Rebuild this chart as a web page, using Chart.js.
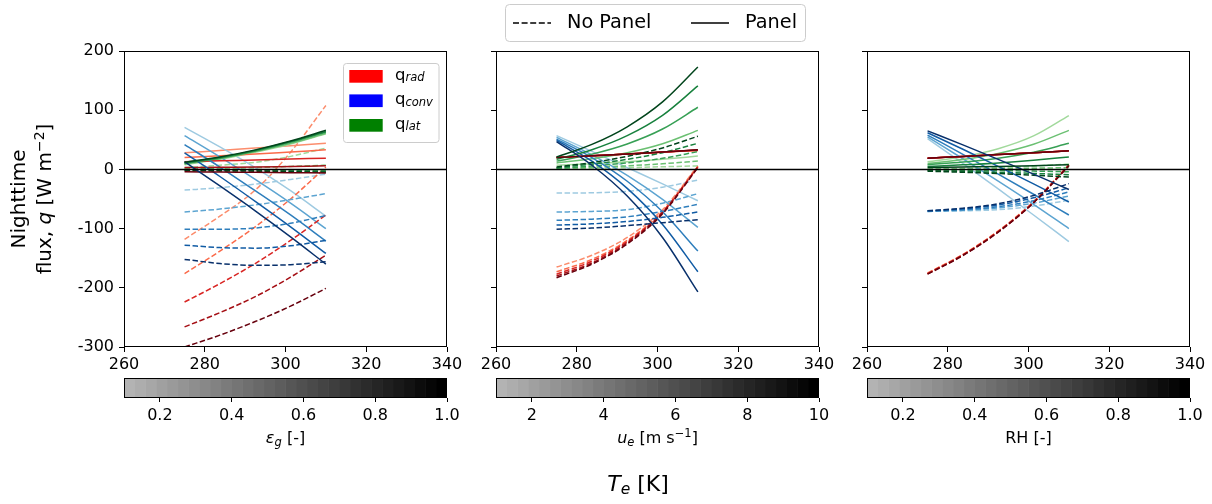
<!DOCTYPE html>
<html><head><meta charset="utf-8">
<script src="https://cdn.jsdelivr.net/npm/chart.js@4/dist/chart.umd.min.js"></script>
<style>
html,body{margin:0;padding:0;background:#fff;}
#wrap{position:relative;width:1212px;height:504px;overflow:hidden;background:#fff;}
canvas{position:absolute;}
</style></head><body><div id="wrap">
<canvas id="p1" width="470" height="380" style="left:0px;top:0px"></canvas>
<canvas id="p2" width="370" height="380" style="left:470px;top:0px"></canvas>
<canvas id="p3" width="371" height="380" style="left:841px;top:0px"></canvas>
<canvas id="c1" width="470" height="134" style="left:0px;top:370px"></canvas>
<canvas id="c2" width="370" height="134" style="left:470px;top:370px"></canvas>
<canvas id="c3" width="371" height="134" style="left:841px;top:370px"></canvas>
</div>
<script>
// ---------------- DATA ----------------
const T_E = [275, 283.75, 292.5, 301.25, 310];   // environment temperature samples [K]
const X_TICKS = [260, 280, 300, 320, 340];
const Y_TICKS = [-300, -200, -100, 0, 100, 200];

// Panel 1: varying ground emissivity (5 levels, light -> dark)
const p1RadNoPanel  = [[-118,-79,-35,29,108],[-176,-138,-97,-50,4],[-224,-193,-159,-120,-77],[-266,-242,-215,-182,-145],[-300,-280,-257,-231,-201]];
const p1RadPanel    = [[28,32,36,40,44],[20,23,26,29.5,33],[13,14.5,16,17.5,19],[3,3.5,4,5,6],[-4,-4.5,-5,-5.5,-6]];
const p1ConvNoPanel = [[-35,-31,-25,-17,-8],[-72,-67,-60,-51,-41],[-101,-101,-99,-91,-78],[-128,-132,-133,-129,-120],[-152,-159,-162,-161,-156]];
const p1ConvPanel   = [[71,38,3,-36,-79],[57,21,-17,-57,-100],[42,4,-36,-77,-121],[28,-12,-54,-97,-142],[13,-28,-70,-114,-160]];
const p1LatNoPanel  = [[3,7,12,22,36],[1,2,3,5,7],[0,-0.5,-1,-1.5,-2],[-1,-1.5,-2,-3,-4],[-2,-2.5,-3,-4,-5]];
const p1LatPanel    = [[8,17,29,43,60],[9,18,30,44,61],[10,19,31,46,63],[11,20,32,47,64],[12,21,33,48,66]];

// Panel 2: varying wind speed
const p2RadNoPanel  = [[-165,-145,-115,-68,6],[-173,-152,-120,-71,5],[-177,-155,-122,-72,4],[-180,-158,-124,-73,4],[-183,-160,-126,-75,3]];
const p2RadPanel    = [[20,23,26,29,32],[20,23,26,29,32],[20,23,26,29.2,32.5],[20,23,26,29.5,33],[20,23,26,29.5,33]];
const p2ConvNoPanel = [[-40,-39.5,-37,-30,-18],[-72,-71,-68,-57,-41],[-86,-84,-80,-71,-59],[-94,-92,-88,-81,-72],[-101,-99,-95,-90,-85]];
const p2ConvPanel   = [[57,30.5,3,-24.5,-53],[54,24.5,-10,-50.5,-98],[51,20,-20,-71.5,-138],[49,14,-32,-93,-173],[47,7,-45,-115,-207]];
const p2LatNoPanel  = [[1,2,3,4.5,6],[2,3.5,6,9.5,14],[2,5.7,11,18.7,30],[3,8.9,17,28.3,44],[4,11.6,22,36.3,56]];
const p2LatPanel    = [[7,9.7,13,17.2,22.5],[11,17.8,28,43.2,66],[14,25.8,43,68.2,105],[17,33.3,57,91.3,141],[21,42.2,72,114,173]];

// Panel 3: varying relative humidity
const p3RadNoPanel  = [[-175,-143.5,-104,-54.5,8],[-175.5,-144,-104.5,-55,7.5],[-176,-144.5,-105,-55.3,7],[-176.5,-145,-105.5,-56,6.5],[-177,-145.5,-106,-56.5,6]];
const p3RadPanel    = [[19,22,25,28,31.5],[19,22,25,28,31.5],[19,22,25,28,31.5],[19,22,25,28,31.5],[19,22,25,28,31.5]];
const p3ConvNoPanel = [[-71,-70,-68,-62,-52],[-71,-69,-65,-57,-45],[-70.5,-68,-63,-53,-38],[-70,-66.5,-60,-48,-31],[-70,-65.5,-58,-44,-24]];
const p3ConvPanel   = [[52,10,-33,-77,-122],[55,18,-20,-59,-100],[58,25.5,-8,-42,-77],[62,34,5,-24.5,-55],[65,41.5,17,-8,-34]];
const p3LatNoPanel  = [[1,1.8,3,5.5,9],[0,0.4,1,2,3],[-1,-1.4,-2,-2.9,-4],[-2,-3.3,-5,-6.8,-9],[-3,-4.8,-7,-9.8,-13]];
const p3LatPanel    = [[13,21.5,35,56.6,91],[10,16.8,27,42.5,66],[8,12.4,19,29,44],[5,7.7,11,15.5,21],[3,4,5,6.3,8]];

// Colorbar ranges and ticks
const cb1Range = [0.1, 1.0]; const cb1Ticks = [0.2, 0.4, 0.6, 0.8, 1.0];
const cb2Range = [1, 10];    const cb2Ticks = [2, 4, 6, 8, 10];
const cb3Range = [0.1, 1.0]; const cb3Ticks = [0.2, 0.4, 0.6, 0.8, 1.0];
const CB_STEPS = 30;

// ---------------- STYLE ----------------
const REDS   = ['#fc8d6d','#fb6a4a','#d92523','#a50f15','#67000d'];
const BLUES  = ['#9ecae1','#5ca4d1','#2e7ebc','#105ba4','#08306b'];
const GREENS = ['#a1d99b','#6bc072','#37a055','#17813d','#00441b'];
const FONT = 'DejaVu Sans';
const TICK_FS = 16;
const DASH = [5.5, 2.5];

function fontOf(s){ return (s.italic?'italic ':'') + s.size + 'px "' + FONT + '"'; }
function rich(ctx, segs, x, y, align){
  let w = 0;
  segs.forEach(s=>{ ctx.font = fontOf(s); s.w = ctx.measureText(s.t).width; w += s.w; });
  let cx = align==='center' ? x - w/2 : (align==='right' ? x - w : x);
  ctx.textAlign='left'; ctx.textBaseline='middle'; ctx.fillStyle='#000';
  segs.forEach(s=>{ ctx.font = fontOf(s); ctx.fillText(s.t, cx, y + (s.dy||0)); cx += s.w; });
}

function buildDatasets(groups){
  const ds = [];
  for (let i=0;i<5;i++){
    groups.forEach(g=>{
      ds.push({
        data: T_E.map((t,k)=>({x:t, y:g.vals[i][k]})),
        borderColor: g.pal[i], borderWidth: 1.5,
        borderDash: g.dash ? DASH : [],
        pointRadius: 0, cubicInterpolationMode: 'monotone', fill: false
      });
    });
  }
  return ds.reverse(); // first dataset is painted last
}

const framePlugin = {
  id:'frame',
  afterDatasetsDraw(chart){
    const {ctx, chartArea:a, scales} = chart;
    ctx.save();
    if (scales.y && chart.config.type==='line'){
      const y0 = Math.round(scales.y.getPixelForValue(0)) + 0.5;
      ctx.strokeStyle='#000'; ctx.lineWidth=1.3;
      ctx.beginPath(); ctx.moveTo(a.left, y0); ctx.lineTo(a.right, y0); ctx.stroke();
    }
    ctx.strokeStyle='#000'; ctx.lineWidth=1;
    ctx.strokeRect(Math.round(a.left)+0.5, Math.round(a.top)+0.5, Math.round(a.right-a.left)-1, Math.round(a.bottom-a.top)-1);
    ctx.restore();
  }
};

function panelOptions(showY, padRight){
  return {
    responsive:false, animation:false, devicePixelRatio:1,
    layout:{padding:{left:0, right:padRight, top:51, bottom:0}},
    plugins:{legend:{display:false}, tooltip:{enabled:false}},
    scales:{
      x:{type:'linear', min:260, max:340,
         afterBuildTicks:s=>{ s.ticks = X_TICKS.map(v=>({value:v})); },
         ticks:{font:{family:FONT,size:TICK_FS}, color:'#000', padding:3, maxRotation:0, autoSkip:false},
         grid:{drawOnChartArea:false, drawTicks:true, tickLength:5, color:'#000'},
         border:{display:false},
         afterFit:s=>{ s.height = 33; }},
      y:{type:'linear', min:-300, max:200,
         afterBuildTicks:s=>{ s.ticks = Y_TICKS.map(v=>({value:v})); },
         ticks:{font:{family:FONT,size:TICK_FS}, color:'#000', padding:5, callback: showY ? (v=>String(v)) : (()=>'' )},
         grid:{drawOnChartArea:false, drawTicks:true, tickLength:5, color:'#000'},
         border:{display:false},
         afterFit:s=>{ s.width = showY ? 124 : 26; }}
    }
  };
}

function panelData(rn, rp, cn, cp, ln, lp){
  return {datasets: buildDatasets([
    {vals:rn, pal:REDS, dash:true},
    {vals:cn, pal:BLUES, dash:true},
    {vals:ln, pal:GREENS, dash:true},
    {vals:rp, pal:REDS, dash:false},
    {vals:cp, pal:BLUES, dash:false},
    {vals:lp, pal:GREENS, dash:false}
  ])};
}

// ---- Panel 1
new Chart(document.getElementById('p1'), {
  type:'line',
  data: panelData(p1RadNoPanel, p1RadPanel, p1ConvNoPanel, p1ConvPanel, p1LatNoPanel, p1LatPanel),
  options: panelOptions(true, 23),
  plugins:[framePlugin, {
    id:'p1extra',
    afterDraw(chart){
      const ctx = chart.ctx;
      const cy = (chart.chartArea.top + chart.chartArea.bottom)/2;
      ctx.save(); ctx.translate(20, cy); ctx.rotate(-Math.PI/2);
      rich(ctx, [{t:'Nighttime', size:20}], 0, 0, 'center');
      ctx.restore();
      ctx.save(); ctx.translate(46, cy); ctx.rotate(-Math.PI/2);
      rich(ctx, [{t:'flux, ', size:20},{t:'q',size:20,italic:true},{t:' [W m',size:20},{t:'−2',size:14,dy:-6},{t:']',size:20}], 0, 0, 'center');
      ctx.restore();
      ctx.save();
      const bx=343.5, by=63.5, bw=95.5, bh=79;
      ctx.fillStyle='rgba(255,255,255,0.8)'; ctx.strokeStyle='#cccccc'; ctx.lineWidth=1;
      ctx.beginPath(); ctx.roundRect(bx,by,bw,bh,3); ctx.fill(); ctx.stroke();
      const rows = [{c:'#ff0000', s:'rad', y:76.3},{c:'#0000ff', s:'conv', y:100.7},{c:'#008000', s:'lat', y:125.3}];
      rows.forEach(r=>{
        ctx.fillStyle=r.c; ctx.fillRect(349.3, r.y-6.3, 33.4, 12.7);
        rich(ctx, [{t:'q',size:16.5},{t:r.s,size:11.5,italic:true,dy:3}], 395, r.y-1, 'left');
      });
      ctx.restore();
    }
  }]
});

// ---- Panel 2
new Chart(document.getElementById('p2'), {
  type:'line',
  data: panelData(p2RadNoPanel, p2RadPanel, p2ConvNoPanel, p2ConvPanel, p2LatNoPanel, p2LatPanel),
  options: panelOptions(false, 370-26-323),
  plugins:[framePlugin, {
    id:'p2extra',
    afterDraw(chart){
      const ctx = chart.ctx; const ox = 470;
      ctx.save();
      ctx.fillStyle='#fff'; ctx.strokeStyle='#cccccc'; ctx.lineWidth=1;
      ctx.beginPath(); ctx.roundRect(505.5-ox, 4.5, 300, 37, 4); ctx.fill(); ctx.stroke();
      ctx.strokeStyle='#000'; ctx.lineWidth=1.5;
      ctx.setLineDash([6, 2.6]); ctx.beginPath(); ctx.moveTo(513-ox,23); ctx.lineTo(551-ox,23); ctx.stroke();
      ctx.setLineDash([]); ctx.beginPath(); ctx.moveTo(691-ox,23); ctx.lineTo(729-ox,23); ctx.stroke();
      rich(ctx, [{t:'No Panel', size:19.3}], 567-ox, 23, 'left');
      rich(ctx, [{t:'Panel', size:19.3}], 745-ox, 23, 'left');
      ctx.restore();
    }
  }]
});

// ---- Panel 3
new Chart(document.getElementById('p3'), {
  type:'line',
  data: panelData(p3RadNoPanel, p3RadPanel, p3ConvNoPanel, p3ConvPanel, p3LatNoPanel, p3LatPanel),
  options: panelOptions(false, 371-26-323),
  plugins:[framePlugin]
});

// ---------------- COLORBARS ----------------
function cbBins(range){
  const [lo, hi] = range; const step = (hi-lo)/CB_STEPS; const bins = [];
  for (let k=0;k<CB_STEPS;k++){
    const g = Math.round(179*(1 - k/(CB_STEPS-1)));
    bins.push({lo: lo+k*step, hi: lo+(k+1)*step, color:`rgb(${g},${g},${g})`});
  }
  return bins;
}
function colorbar(id, range, ticks, padL, padR, fmt, labelSegs, extraDraw){
  new Chart(document.getElementById(id), {
    type:'bar',
    data:{labels:[''], datasets: cbBins(range).map(b=>({
      data:[[b.lo, b.hi]], backgroundColor:b.color, borderWidth:0,
      barPercentage:1, categoryPercentage:1, grouped:false
    }))},
    options:{
      responsive:false, animation:false, devicePixelRatio:1, indexAxis:'y',
      layout:{padding:{left:padL, right:padR, top:8, bottom:0}},
      plugins:{legend:{display:false}, tooltip:{enabled:false}},
      scales:{
        x:{type:'linear', min:range[0], max:range[1],
           afterBuildTicks:s=>{ s.ticks = ticks.map(v=>({value:v})); },
           ticks:{font:{family:FONT,size:TICK_FS}, color:'#000', padding:4, maxRotation:0, autoSkip:false, callback:fmt},
           grid:{drawOnChartArea:false, drawTicks:true, tickLength:4, color:'#000'},
           border:{display:false},
           afterFit:s=>{ s.height = 106; }},
        y:{display:false}
      }
    },
    plugins:[framePlugin, {
      id:id+'lab',
      afterDraw(chart){
        const a = chart.chartArea;
        rich(chart.ctx, labelSegs, (a.left+a.right)/2, 69, 'center');
        if (extraDraw) extraDraw(chart);
      }
    }]
  });
}
colorbar('c1', cb1Range, cb1Ticks, 124, 23, v=>v.toFixed(1),
  [{t:'ε',size:16,italic:true},{t:'g',size:11.5,italic:true,dy:4},{t:' [-]',size:16}]);
colorbar('c2', cb2Range, cb2Ticks, 26, 370-26-323, v=>String(v),
  [{t:'u',size:16,italic:true},{t:'e',size:11.5,italic:true,dy:4},{t:' [m s',size:16},{t:'−1',size:11.5,dy:-5},{t:']',size:16}],
  chart=>{ rich(chart.ctx, [{t:'T',size:22,italic:true},{t:'e',size:15.5,italic:true,dy:5},{t:' [K]',size:22}], 638-470, 115, 'center'); });
colorbar('c3', cb3Range, cb3Ticks, 26, 371-26-323, v=>v.toFixed(1),
  [{t:'RH [-]',size:16}]);
</script>
</body></html>
